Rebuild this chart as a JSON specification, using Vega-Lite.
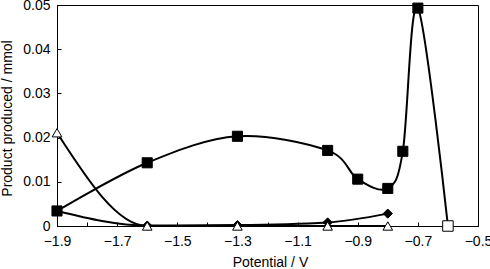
{
  "$schema": "https://vega.github.io/schema/vega-lite/v6.json",
  "width": 421,
  "height": 221,
  "autosize": "none",
  "padding": {"left": 57, "top": 5, "right": 12, "bottom": 43},
  "background": "white",
  "config": {
    "view": {"stroke": "black", "strokeWidth": 1},
    "font": "Liberation Sans",
    "axis": {"domainColor": "black", "tickColor": "black", "labelColor": "black", "titleColor": "black", "labelFont": "Liberation Sans", "titleFont": "Liberation Sans", "labelFontSize": 14, "titleFontSize": 14, "titleFontWeight": "normal", "grid": false}
  },
  "data": {
    "values": [
      {"potential": -1.9, "product": 0.0034, "series": "dia", "line": "D"},
      {"potential": -1.6, "product": 0.0001, "series": "dia", "line": "D"},
      {"potential": -1.3, "product": 0.0002, "series": "dia", "line": "D"},
      {"potential": -1.0, "product": 0.0008, "series": "dia", "line": "D"},
      {"potential": -0.8, "product": 0.0028, "series": "dia", "line": "D"},
      {"potential": -1.9, "product": 0.0211, "series": "tri", "line": "T"},
      {"potential": -1.6, "product": 0.0, "series": "tri", "line": "T"},
      {"potential": -1.3, "product": 0.0, "series": "tri", "line": "T"},
      {"potential": -1.0, "product": 0.0, "series": "tri", "line": "T"},
      {"potential": -0.8, "product": 0.0, "series": "tri", "line": "T"},
      {"potential": -1.9, "product": 0.0034, "series": "sq", "line": "S"},
      {"potential": -1.6, "product": 0.0143, "series": "sq", "line": "S"},
      {"potential": -1.3, "product": 0.0203, "series": "sq", "line": "S"},
      {"potential": -1.0, "product": 0.0171, "series": "sq", "line": "S"},
      {"potential": -0.9, "product": 0.0106, "series": "sq", "line": "S"},
      {"potential": -0.8, "product": 0.0085, "series": "sq", "line": "S"},
      {"potential": -0.75, "product": 0.0169, "series": "sq", "line": "S"},
      {"potential": -0.7, "product": 0.0493, "series": "sq", "line": "S"},
      {"potential": -0.6, "product": 0.0, "series": "sq_open", "line": "S"}
    ]
  },
  "encoding": {
    "x": {
      "field": "potential", "type": "quantitative",
      "scale": {"domain": [-1.9, -0.5], "nice": false, "zero": false},
      "axis": {
        "title": "Potential / V",
        "values": [-1.9, -1.8, -1.7, -1.6, -1.5, -1.4, -1.3, -1.2, -1.1, -1.0, -0.9, -0.8, -0.7, -0.6, -0.5],
        "labelExpr": "abs(round(datum.value * 10)) % 2 == 1 ? format(datum.value, '.1f') : ''",
        "labelOverlap": false,
        "labelFlush": false,
        "tickSize": -4,
        "labelBaseline": "alphabetic",
        "labelPadding": 23,
        "titleX": 213,
        "titleY": 40,
        "titleBaseline": "alphabetic",
        "titleAlign": "center"
      }
    },
    "y": {
      "field": "product", "type": "quantitative",
      "scale": {"domain": [0, 0.05], "nice": false},
      "axis": {
        "title": "Product produced / mmol",
        "values": [0, 0.01, 0.02, 0.03, 0.04, 0.05],
        "labelExpr": "datum.value == 0 ? '0' : format(datum.value, '.2f')",
        "labelOverlap": false,
        "labelFlush": false,
        "tickSize": -4,
        "labelPadding": 11,
        "titleX": -50,
        "titleY": 113,
        "titleAngle": -90,
        "titleBaseline": "middle",
        "titleAlign": "center"
      }
    }
  },
  "layer": [
    {
      "transform": [{"filter": "datum.line != 'S'"}],
      "mark": {"type": "line", "interpolate": "monotone", "color": "black", "strokeWidth": 2},
      "encoding": {"detail": {"field": "line", "type": "nominal"}}
    },
    {
      "transform": [{"filter": "datum.line == 'S'"}],
      "mark": {"type": "line", "interpolate": "cardinal", "color": "black", "strokeWidth": 2},
      "encoding": {"detail": {"field": "line", "type": "nominal"}}
    },
    {
      "mark": {"type": "point", "filled": true, "stroke": "black", "strokeWidth": 1, "opacity": 1},
      "encoding": {
        "shape": {"field": "series", "type": "nominal", "legend": null,
          "scale": {"domain": ["dia", "tri", "sq", "sq_open"], "range": ["diamond", "triangle-up", "square", "square"]}},
        "fill": {"field": "series", "type": "nominal", "legend": null,
          "scale": {"domain": ["dia", "tri", "sq", "sq_open"], "range": ["black", "white", "black", "white"]}},
        "size": {"field": "series", "type": "nominal", "legend": null,
          "scale": {"domain": ["dia", "tri", "sq", "sq_open"], "range": [85, 110, 95, 100]}}
      }
    }
  ]
}
